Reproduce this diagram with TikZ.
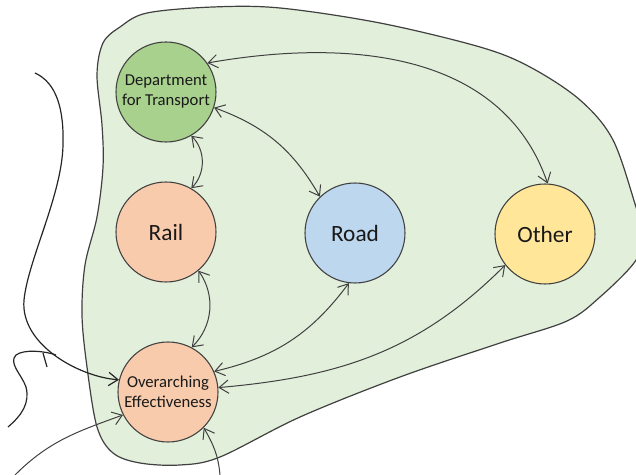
\documentclass[tikz,border=0pt]{standalone}
\usepackage{fontspec}
\setmainfont{Carlito}
\usetikzlibrary{arrows.meta,positioning}
\definecolor{dftgreen}{HTML}{A9D18E}
\definecolor{railorange}{HTML}{F8CBAD}
\definecolor{roadblue}{HTML}{BDD7EE}
\definecolor{otheryellow}{HTML}{FFE699}
\definecolor{blobgreen}{HTML}{E2EFDA}
\definecolor{edgegrey}{HTML}{404040}

\begin{document}
\begin{tikzpicture}[x=0.75pt,y=0.75pt,
  bubble/.style={circle,draw=edgegrey,line width=0.8pt,minimum size=75pt,inner sep=0pt,align=center,text=black!90},
  smalltext/.style={font=\fontsize{12.5}{15}\selectfont},
  bigtext/.style={font=\fontsize{17.5}{21}\selectfont},
  link/.style={{Straight Barb[length=7pt,width=10pt]}-{Straight Barb[length=7pt,width=10pt]},draw=edgegrey,line width=0.75pt},
  feed/.style={-{Straight Barb[length=7pt,width=10pt]},draw=edgegrey,line width=0.75pt},
  stray/.style={draw=black!85,line width=0.9pt}]
\useasboundingbox (0,0) rectangle (636,475);
\clip (0,0) rectangle (636,475);

% Boundary of the system
\filldraw[fill=blobgreen,draw=edgegrey,line width=0.9pt] plot[smooth cycle,tension=0.55] coordinates {
  (97,400) (103,432) (120,448) (147,462) (213,468) (280,467) (380,452) (480,428)
  (530,408) (580,375) (613,335) (636,268) (645,238) (634,212) (600,178) (567,154)
  (500,132) (400,98) (300,58) (220,18) (180,10) (140,12) (113,22) (97,48)
  (87,108) (82,160) (85,210) (97,258) (103,308) (102,350)};

% Bodies
\node[bubble,smalltext,fill=dftgreen] (dft) at (166,383) {Department\\for Transport};
\node[bubble,bigtext,fill=railorange] (rail) at (166,243) {Rail};
\node[bubble,bigtext,fill=roadblue] (road) at (355,242) {Road};
\node[bubble,bigtext,fill=otheryellow] (other) at (545,241) {Other};
\node[bubble,smalltext,fill=railorange] (over) at (168,83) {Overarching\\Effectiveness};

% Links inside
\draw[link] (dft.-60) to[bend left=45] (rail.60);
\draw[link] (dft.-18) to[bend left=20] (road.134);
\draw[link] (dft.35) to[out=10,in=109] (other.87);
\draw[link] (rail.-50) to[bend left=40] (over.62);
\draw[link] (over.24) to[bend right=20] (road.-97);
\draw[link] (over.5) to[out=5,in=225] (other.218);

% Influences from outside
\coordinate (inA) at (35,402);
\coordinate (wigA) at (8,48);
\coordinate (wigB) at (56,120);
\coordinate (tickA) at (43,122);
\coordinate (tickB) at (47,108);
\coordinate (inC) at (15,0);
\coordinate (inD) at (220,0);
\draw[feed,stray] (inA) .. controls (57,392) and (64,365) .. (63,330)
  .. controls (62,280) and (28,215) .. (24,175)
  .. controls (20,130) and (80,98) .. (over.166);
\draw[stray] (wigA) .. controls (22,60) and (30,72) .. (26,88)
  .. controls (22,100) and (8,112) .. (16,120)
  .. controls (24,126) and (45,124) .. (wigB);
\draw[stray] (tickA) -- (tickB);
\draw[feed] (inC) to[out=45,in=200] (over.207);
\draw[feed] (inD) to[out=95,in=-60] (over.-45);
\end{tikzpicture}
\end{document}
